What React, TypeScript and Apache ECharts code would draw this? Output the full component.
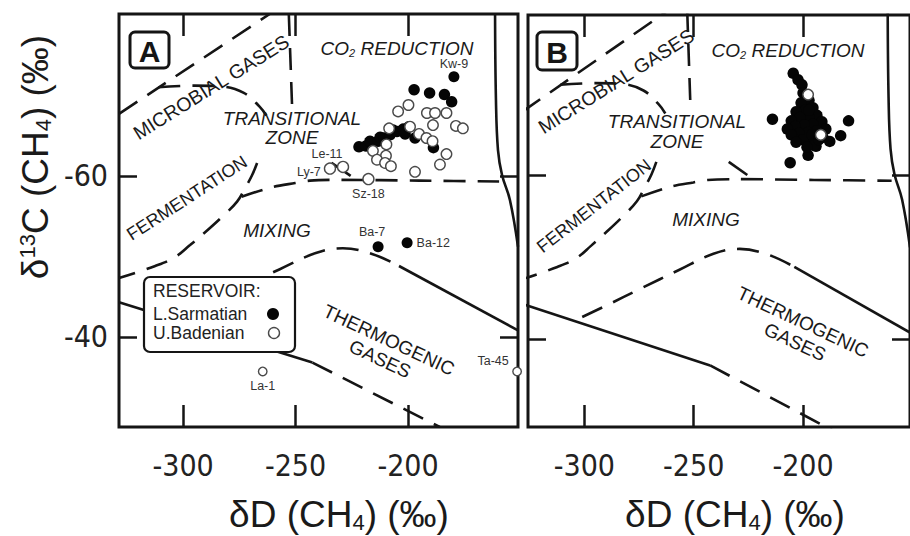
import React, { useEffect, useRef } from "react";
import * as echarts from "echarts";

// ---------- axes ----------
const xTicks = [-300, -250, -200];
const yTicks = [-60, -40];
const panelAX = [-328.5, -151.1];
const panelAY = [-80.1, -28.8];
const panelBX = [-325.8, -151.1];
const panelBY = [-79.5, -29.3];

// ---------- field boundaries (dD, d13C) ----------
const microbialLine = [[-328.5, -67.7], [-261.5, -80.1]];
const transitionalArc = [[-311, -71.0], [-295, -71.2], [-283, -71.1], [-273, -70.3], [-266, -68.6], [-263, -67.5]];
const fermentationLine = [[-267.1, -61.6], [-269.3, -60.1], [-272.4, -58.5], [-276, -56.8], [-282.7, -54.9], [-290.2, -53.0], [-296.9, -51.4], [-303.6, -49.9], [-312.4, -48.8], [-328.5, -47.3]];
const mixingLine = [[-274, -57.4], [-260.4, -58.6], [-250.2, -59.1], [-243.6, -59.4], [-230, -59.5], [-195, -59.4], [-159.5, -59.3]];
const transitionalFoot = [[-234, -61.6], [-225.5, -60.0]];
const co2Line = [[-253, -80.1], [-251.5, -68.3]];
const rightCurve = [[-161.3, -80.1], [-160.9, -69.4], [-160.0, -63.2], [-158.2, -60.1], [-154.7, -57.0], [-151.1, -51.2]];
const thermoUpperDashed = [[-301, -42.7], [-290, -44.1], [-274, -46.2], [-257, -48.4], [-241, -50.4], [-229, -51.0], [-216, -50.3], [-204, -48.8]];
const thermoUpperSolid = [[-204, -48.8], [-151.1, -40.8]];
const thermoLowerSolid = [[-328.5, -44.3], [-242.5, -36.8]];
const thermoLowerDashed = [[-242.5, -36.8], [-185.9, -28.8]];

// ---------- panel A samples ----------
const sarmatianA = [
  [-197.3, -70.7], [-190.4, -70.3], [-183.8, -70.1], [-180.6, -69.2],
  [-221.8, -63.6], [-218.7, -63.7], [-216.0, -64.0], [-216.9, -64.3], [-213.3, -64.3], [-212.4, -64.8],
  [-210.7, -64.7], [-208.0, -65.1], [-206.7, -65.7], [-204.9, -65.5], [-202.2, -65.8], [-199.6, -66.1],
  [-201.3, -65.2], [-196.9, -64.7], [-188.7, -63.5],
];
const badenianA = [
  [-199.8, -68.8], [-204.4, -68.0], [-191.6, -67.8], [-188.0, -67.8], [-182.9, -67.8],
  [-188.9, -66.3], [-178.7, -66.2], [-175.6, -65.9], [-199.1, -66.1], [-208.4, -65.9],
  [-195.1, -65.2], [-191.8, -64.7], [-189.1, -64.3], [-209.6, -63.9], [-215.6, -63.1],
  [-209.8, -62.5], [-213.8, -62.0], [-210.2, -61.6], [-207.6, -61.2], [-182.9, -62.7],
  [-185.8, -61.4], [-196.9, -60.5],
];
const labeledNames = ["Kw-9", "Ba-7", "Ba-12", "Le-11", "Ly-7", "Sz-18", "La-1", "Ta-45"];
const labeledValues = [[-179.6, -72.3], [-213.3, -51.2], [-200.4, -51.7], [-228.9, -61.1], [-234.7, -60.9], [-217.6, -59.6], [-264.6, -35.7], [-151.5, -35.7]];
const labeledReservoir = ["S", "S", "S", "B", "B", "B", "B", "B"];

// ---------- panel B samples ----------
const sarmatianB = [
  [-204.5, -72.4], [-202.3, -71.6], [-200.5, -71.0], [-214.0, -66.8], [-179.2, -66.6],
  [-182.8, -64.8], [-187.8, -64.1], [-197.7, -62.4], [-205.9, -61.5], [-194.1, -63.5],
  [-200.0, -70.0], [-197.3, -69.1], [-200.9, -68.8], [-195.5, -68.2], [-199.1, -67.9],
  [-203.2, -67.7], [-193.7, -67.3], [-197.3, -67.1], [-201.4, -67.0], [-205.4, -66.6],
  [-191.4, -66.5], [-195.5, -66.2], [-199.5, -66.1], [-203.6, -65.9], [-207.2, -65.6],
  [-189.6, -65.6], [-193.7, -65.4], [-197.7, -65.2], [-201.8, -65.1], [-205.4, -64.9],
  [-190.9, -64.6], [-195.5, -64.4], [-200.0, -64.3], [-203.2, -64.0], [-194.6, -63.7],
  [-198.2, -63.4], [-197.3, -67.9], [-195.9, -64.9], [-192.8, -64.3],
];
const badenianB = [[-197.7, -69.8], [-191.9, -64.9]];

const INK = "#151515";
const FONT = "'Liberation Sans', Arial, sans-serif";
const TICKFONT = "'Liberation Sans Narrow', 'DejaVu Sans Condensed', 'Liberation Sans', Arial, sans-serif";
const DASH = [22, 12];

function xAxes(gridIndex: number, range: number[]) {
  const common: any = {
    type: "value", gridIndex, min: range[0], max: range[1],
    splitLine: { show: false }, axisLine: { show: false, onZero: false },
    axisTick: { show: true, inside: true, length: 22, customValues: xTicks, lineStyle: { color: INK, width: 2.5 } },
  };
  return [
    { ...common, position: "bottom", axisLabel: { show: true, customValues: xTicks, margin: 23, fontSize: 30, fontFamily: TICKFONT, color: "#222", formatter: (v: number) => String(v) } },
    { ...common, position: "top", axisLabel: { show: false } },
  ];
}
function yAxes(gridIndex: number, range: number[], labels: boolean) {
  const common: any = {
    type: "value", gridIndex, min: range[0], max: range[1], inverse: true,
    splitLine: { show: false }, axisLine: { show: false, onZero: false },
    axisTick: { show: true, inside: true, length: 18, customValues: yTicks, lineStyle: { color: INK, width: 2.5 } },
  };
  return [
    { ...common, position: "left", axisLabel: { show: labels, customValues: yTicks, margin: 11, fontSize: 30, fontFamily: TICKFONT, color: "#222", formatter: (v: number) => String(v) } },
    { ...common, position: "right", axisLabel: { show: false } },
  ];
}

function boundarySeries(axis: number) {
  const mk = (data: number[][], dashed: boolean, smooth: number | boolean = false) => ({
    type: "line", xAxisIndex: axis, yAxisIndex: axis, data, symbol: "none", showSymbol: false,
    smooth, silent: true, z: 1, clip: true,
    lineStyle: { color: INK, width: 2.6, type: dashed ? DASH : "solid" },
  });
  return [
    mk(microbialLine, true),
    mk(transitionalArc, true, 0.4),
    mk(fermentationLine, true, 0.4),
    mk(mixingLine, true, 0.3),
    mk(transitionalFoot, false),
    mk(co2Line, true),
    mk(rightCurve, false, 0.4),
    mk(thermoUpperDashed, true, 0.4),
    mk(thermoUpperSolid, false),
    mk(thermoLowerSolid, false),
    mk(thermoLowerDashed, true),
  ];
}

const filledStyle = { color: "#050505", opacity: 1 };
const openStyle = { color: "#ffffff", borderColor: "#4a4a4a", borderWidth: 1.4, opacity: 1 };

const labelPlace: Record<string, any> = {
  "Kw-9": { position: "top", distance: 1 },
  "Ba-7": { position: "top", distance: 3, offset: [-6, 0] },
  "Ba-12": { position: "right", distance: 4 },
  "Le-11": { position: "top", distance: 2, offset: [-16, 2] },
  "Ly-7": { position: "left", distance: 3, offset: [0, 3] },
  "Sz-18": { position: "bottom", distance: 2 },
  "La-1": { position: "bottom", distance: 3 },
  "Ta-45": { position: "top", distance: 3, offset: [-24, 4] },
};

function labeledData(res: string) {
  return labeledNames
    .map((n, i) => ({ n, i }))
    .filter(({ i }) => labeledReservoir[i] === res)
    .map(({ n, i }) => ({
      name: n,
      value: labeledValues[i],
      symbolSize: n === "La-1" || n === "Ta-45" ? 8.5 : 11,
      label: { show: true, formatter: "{b}", fontSize: 12.5, fontFamily: FONT, color: "#333", ...labelPlace[n] },
    }));
}

function txt(text: string, x: number, y: number, size: number, opts: any = {}) {
  return {
    type: "text", x, y, z: 100, rotation: opts.rotation || 0,
    style: {
      text, fontSize: size, fontFamily: FONT, fontStyle: opts.italic ? "italic" : "normal",
      fontWeight: opts.bold ? "bold" : "normal", fill: opts.fill || "#1a1a1a",
      align: opts.align || "center", verticalAlign: "middle",
      textAlign: opts.align || "center", textVerticalAlign: "middle",
      rich: opts.rich,
    },
  };
}

const deg = (d: number) => (d * Math.PI) / 180;

function co2(x: number, y: number) {
  return txt("{a|CO}{s|2}{a| REDUCTION}", x, y, 19, {
    rich: {
      a: { fontSize: 19, fontStyle: "italic", fontFamily: FONT, fill: "#1a1a1a", color: "#1a1a1a", lineHeight: 20 },
      s: { fontSize: 11, fontStyle: "italic", fontFamily: FONT, fill: "#1a1a1a", color: "#1a1a1a", lineHeight: 10, verticalAlign: "bottom" },
    },
  });
}

function panelLabels(p: any) {
  return [
    co2(p.co2[0], p.co2[1]),
    txt("TRANSITIONAL", p.tr[0], p.tr[1], 19, { italic: true }),
    txt("ZONE", p.zo[0], p.zo[1], 19, { italic: true }),
    txt("MICROBIAL GASES", p.mi[0], p.mi[1], 19.5, { rotation: deg(p.miA) }),
    txt("FERMENTATION", p.fe[0], p.fe[1], 18, { rotation: deg(p.feA) }),
    txt("MIXING", p.mx[0], p.mx[1], 19, { italic: true }),
    txt("THERMOGENIC", p.th[0], p.th[1], 19, { rotation: deg(-p.thA) }),
    txt("GASES", p.ga[0], p.ga[1], 19, { rotation: deg(-p.thA) }),
    {
      type: "rect", z: 100, shape: { x: p.box[0], y: p.box[1], width: p.box[2], height: p.box[3], r: 5 },
      style: { fill: "#fff", stroke: INK, lineWidth: 3 },
    },
    txt(p.letter, p.box[0] + p.box[2] / 2, p.box[1] + p.box[3] / 2 + 1, 30, { bold: true, fill: INK }),
  ];
}

const axisTitleRich = {
  a: { fontSize: 37, fontFamily: FONT, fill: "#1a1a1a", color: "#1a1a1a", lineHeight: 38 },
  s: { fontSize: 22, fontFamily: FONT, fill: "#1a1a1a", color: "#1a1a1a", lineHeight: 17, verticalAlign: "bottom" },
  p: { fontSize: 22, fontFamily: FONT, fill: "#1a1a1a", color: "#1a1a1a", lineHeight: 20, verticalAlign: "top" },
};

function buildOption(): any {
  const legend = [
    {
      type: "rect", z: 100, shape: { x: 144, y: 277, width: 151, height: 75, r: 6 },
      style: { fill: "#fff", stroke: INK, lineWidth: 2.2 },
    },
    txt("RESERVOIR:", 153, 291, 17.5, { align: "left", fill: "#222" }),
    txt("L.Sarmatian", 153, 314, 17.5, { align: "left", fill: "#222" }),
    txt("U.Badenian", 153, 333, 17.5, { align: "left", fill: "#222" }),
    { type: "circle", z: 101, shape: { cx: 273, cy: 314, r: 6 }, style: { fill: "#050505" } },
    { type: "circle", z: 101, shape: { cx: 274, cy: 333, r: 5.5 }, style: { fill: "#fff", stroke: "#4a4a4a", lineWidth: 1.4 } },
  ];
  const titles = [
    txt("{a|δD (CH}{s|4}{a|) (‰)}", 339, 514, 37, { rich: axisTitleRich }),
    txt("{a|δD (CH}{s|4}{a|) (‰)}", 735, 514, 37, { rich: axisTitleRich }),
    txt("{a|δ}{p|13}{a|C (CH}{s|4}{a|) (‰)}", 35, 157, 37, { rich: axisTitleRich, rotation: Math.PI / 2 }),
  ];
  const pA = {
    co2: [397, 48], tr: [292, 118], zo: [292, 137], mi: [211, 87], miA: 32, fe: [187, 198], feA: 33,
    mx: [277, 230], th: [389, 340], ga: [380, 359], thA: 25, box: [130, 32, 39, 36], letter: "A",
  };
  const pB = {
    co2: [788, 50], tr: [677, 121], zo: [677, 141], mi: [616, 81], miA: 32, fe: [594, 206], feA: 38,
    mx: [706, 219], th: [803, 322], ga: [795, 342], thA: 25, box: [537, 32, 40, 38], letter: "B",
  };

  return {
    animation: false,
    backgroundColor: "#ffffff",
    grid: [
      { left: 119, top: 14, width: 399, height: 413, show: true, borderColor: INK, borderWidth: 3, backgroundColor: "transparent" },
      { left: 528, top: 15, width: 386, height: 412, show: true, borderColor: INK, borderWidth: 3, backgroundColor: "transparent" },
    ],
    xAxis: [...xAxes(0, panelAX), ...xAxes(1, panelBX)],
    yAxis: [...yAxes(0, panelAY, true), ...yAxes(1, panelBY, false)],
    series: [
      ...boundarySeries(0),
      ...boundarySeries(2),
      { type: "scatter", xAxisIndex: 0, yAxisIndex: 0, data: sarmatianA, symbolSize: 11.5, itemStyle: filledStyle, z: 3, silent: true },
      { type: "scatter", xAxisIndex: 0, yAxisIndex: 0, data: badenianA, symbolSize: 10.5, itemStyle: openStyle, z: 4, silent: true },
      { type: "scatter", xAxisIndex: 0, yAxisIndex: 0, data: labeledData("S"), itemStyle: filledStyle, z: 3, silent: true },
      { type: "scatter", xAxisIndex: 0, yAxisIndex: 0, data: labeledData("B"), itemStyle: openStyle, z: 4, silent: true },
      { type: "scatter", xAxisIndex: 2, yAxisIndex: 2, data: sarmatianB, symbolSize: 11.5, itemStyle: filledStyle, z: 3, silent: true },
      { type: "scatter", xAxisIndex: 2, yAxisIndex: 2, data: badenianB, symbolSize: 10.5, itemStyle: openStyle, z: 4, silent: true },
    ],
    graphic: { elements: [...panelLabels(pA), ...panelLabels(pB), ...legend, ...titles] },
  };
}

export default function App() {
  const ref = useRef<HTMLDivElement>(null);
  useEffect(() => {
    const chart = echarts.init(ref.current!, null, { renderer: "svg" });
    chart.setOption(buildOption());
    return () => chart.dispose();
  }, []);
  return (
    <div
      ref={ref}
      style={{ position: "fixed", left: 0, top: 0, width: 910, height: 536, background: "#fff" }}
    />
  );
}
